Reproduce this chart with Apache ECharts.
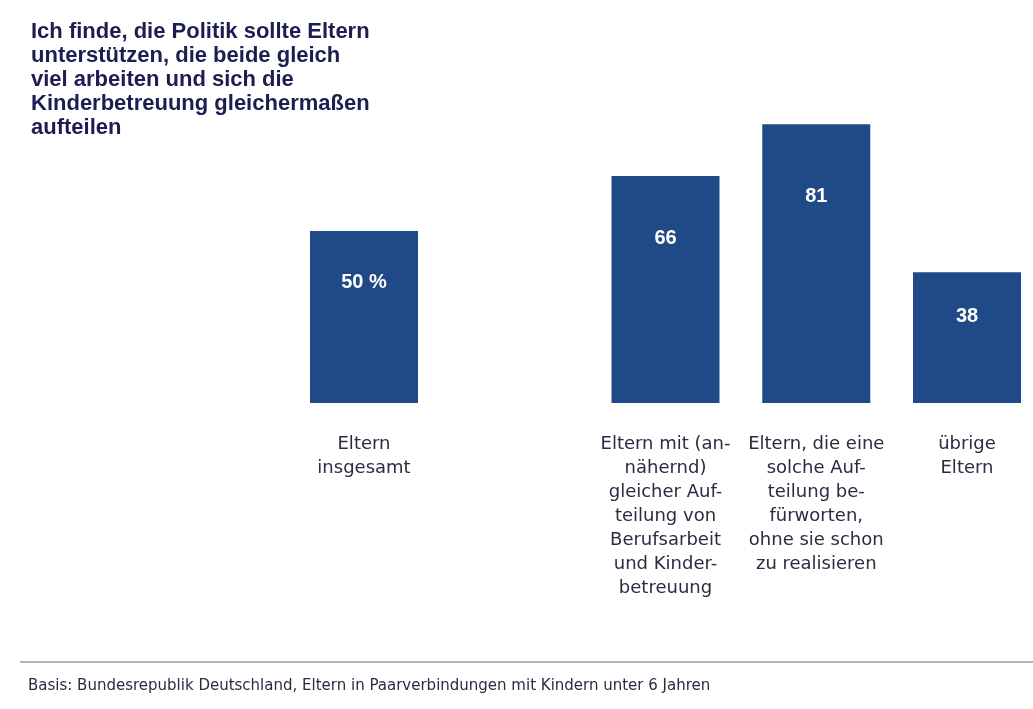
<!DOCTYPE html>
<html>
<head>
<meta charset="utf-8">
<script src="https://cdn.jsdelivr.net/npm/echarts@6/dist/echarts.min.js"></script>
<style>
  html, body { margin: 0; padding: 0; background: #fff; }
  #chart { width: 1033px; height: 709px; }
</style>
</head>
<body>
<div id="chart"></div>
<script>
// data
var categories = [
    'Eltern\ninsgesamt',
    '',
    'Eltern mit (an-\nnähernd)\ngleicher Auf-\nteilung von\nBerufsarbeit\nund Kinder-\nbetreuung',
    'Eltern, die eine\nsolche Auf-\nteilung be-\nfürworten,\nohne sie schon\nzu realisieren',
    'übrige\nEltern'
];
var values = [50, null, 66, 81, 38];
var titleText = 'Ich finde, die Politik sollte Eltern\nunterstützen, die beide gleich\nviel arbeiten und sich die\nKinderbetreuung gleichermaßen\naufteilen';
var sourceText = 'Basis: Bundesrepublik Deutschland, Eltern in Paarverbindungen mit Kindern unter 6 Jahren';

var dom = document.getElementById('chart');
var myChart = echarts.init(dom);

var option = {
    backgroundColor: '#fff',
    animation: false,
    title: {
        text: titleText,
        left: 26,
        top: 15,
        textStyle: {
            fontFamily: 'Liberation Sans',
            fontWeight: 'bold',
            fontSize: 22,
            lineHeight: 24,
            color: '#1c1d50'
        }
    },
    // categories sit on the grid edges so the last bar can reach the right border
    grid: {
        left: 364,
        width: 603,
        top: 59,
        bottom: 306
    },
    xAxis: {
        type: 'category',
        data: categories,
        boundaryGap: false,
        axisLine: { show: false },
        axisTick: { show: false },
        axisLabel: {
            interval: 0,
            margin: 29,
            fontFamily: 'DejaVu Sans',
            fontSize: 18,
            lineHeight: 24,
            color: '#2b2c40'
        }
    },
    yAxis: {
        type: 'value',
        min: 0,
        max: 100,
        show: false
    },
    series: [
        {
            type: 'bar',
            data: values,
            barWidth: 108,
            clip: false,
            itemStyle: { color: '#1f4a87' },
            label: {
                show: true,
                position: ['50%', '19%'],
                offset: [0, 19],
                align: 'center',
                verticalAlign: 'middle',
                color: '#fff',
                fontFamily: 'Liberation Sans',
                fontWeight: 'bold',
                fontSize: 20,
                formatter: function (p) {
                    return p.dataIndex === 0 ? p.value + ' %' : String(p.value);
                }
            }
        }
    ],
    graphic: [
        {
            type: 'line',
            shape: { x1: 20, y1: 662, x2: 1033, y2: 662 },
            style: { stroke: '#9a9a9a', lineWidth: 1.5 }
        },
        {
            type: 'text',
            left: 28,
            top: 679,
            style: {
                text: sourceText,
                font: '15px "DejaVu Sans"',
                fill: '#2b2c40'
            }
        }
    ]
};

if (option && typeof option === 'object') {
    myChart.setOption(option, true);
}
</script>
</body>
</html>
